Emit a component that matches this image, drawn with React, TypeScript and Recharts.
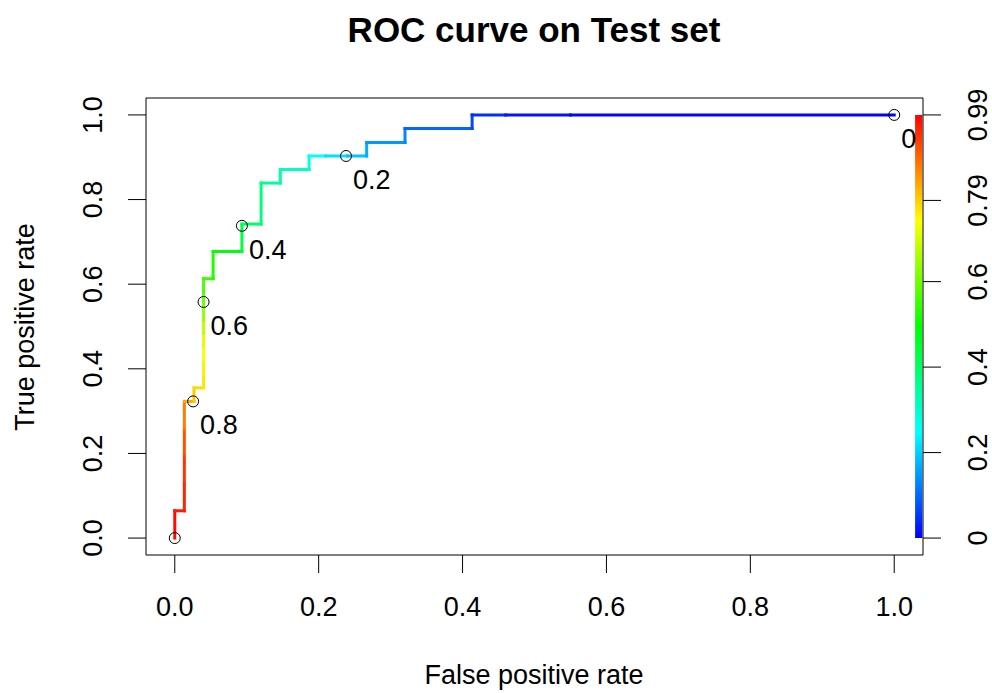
import React from "react";
import {
  ComposedChart,
  Line,
  Scatter,
  XAxis,
  YAxis,
  ReferenceArea,
} from "recharts";

// ROC vertices (steps of the curve) with the cutoff at each one
const fpr = [
  0, 0, 0.0133, 0.0133, 0.0133, 0.0133, 0.0133, 0.0267, 0.0267, 0.04, 0.04, 0.04,
  0.04, 0.04, 0.04, 0.04, 0.04, 0.04, 0.0533, 0.0533, 0.0933, 0.0933, 0.12, 0.12,
  0.1467, 0.1467, 0.1867, 0.1867, 0.21, 0.24, 0.2667, 0.2667, 0.32, 0.32, 0.4133,
  0.4133, 0.46, 0.55, 1,
];
const tpr = [
  0, 0.0645, 0.0645, 0.129, 0.194, 0.258, 0.323, 0.323, 0.355, 0.355, 0.387, 0.419,
  0.452, 0.484, 0.516, 0.548, 0.581, 0.613, 0.613, 0.677, 0.677, 0.742, 0.742, 0.839,
  0.839, 0.871, 0.871, 0.903, 0.903, 0.903, 0.903, 0.935, 0.935, 0.968, 0.968, 1, 1,
  1, 1,
];
const cutoffs = [
  0.99, 0.97, 0.96, 0.95, 0.93, 0.89, 0.85, 0.8, 0.79, 0.77, 0.76, 0.75, 0.73, 0.7,
  0.66, 0.62, 0.58, 0.56, 0.54, 0.51, 0.46, 0.41, 0.39, 0.36, 0.34, 0.32, 0.29, 0.26,
  0.235, 0.2, 0.18, 0.16, 0.14, 0.12, 0.08, 0.06, 0.03, 0.01, 0,
];

// cutoffs printed on the curve
const markFpr = [0, 0.0255, 0.04, 0.0933, 0.238, 1];
const markTpr = [0, 0.323, 0.558, 0.738, 0.903, 1];
const markLabels = ["", "0.8", "0.6", "0.4", "0.2", "0"];

const xTicks = [0, 0.2, 0.4, 0.6, 0.8, 1];
const yTicks = [0, 0.2, 0.4, 0.6, 0.8, 1];
const keyTicks = [0, 0.2, 0.4, 0.6, 0.79, 0.99];
const cutMax = 0.99;

const FONT = "'Liberation Sans', Arial, sans-serif";

const rainbow = (c: number) => {
  const h = Math.max(0, Math.min(240, 240 * (1 - c / cutMax)));
  return `hsl(${h.toFixed(1)}, 100%, 50%)`;
};

const segments = fpr.slice(1).map((_, i) => ({
  color: rainbow((cutoffs[i] + cutoffs[i + 1]) / 2),
  data: [
    { x: fpr[i], y: tpr[i] },
    { x: fpr[i + 1], y: tpr[i + 1] },
  ],
}));

const marks = markFpr.map((x, i) => ({ x, y: markTpr[i], label: markLabels[i] }));

const XTick = ({ x, y, payload }: any) => (
  <text x={x} y={y + 43} textAnchor="middle" fontSize={27} fontFamily={FONT} fill="#000">
    {Number(payload.value).toFixed(1)}
  </text>
);

const LeftTick = ({ x, y, payload }: any) => (
  <text
    x={x - 26}
    y={y}
    textAnchor="middle"
    fontSize={27}
    fontFamily={FONT}
    fill="#000"
    transform={`rotate(-90, ${x - 26}, ${y})`}
  >
    {Number(payload.value).toFixed(1)}
  </text>
);

const RightTick = ({ x, y, payload }: any) => (
  <text
    x={x + 46}
    y={y}
    textAnchor="middle"
    fontSize={27}
    fontFamily={FONT}
    fill="#000"
    transform={`rotate(-90, ${x + 46}, ${y})`}
  >
    {String(payload.value)}
  </text>
);

const Mark = (props: any) => {
  const { cx, cy, payload } = props;
  return (
    <g>
      <circle cx={cx} cy={cy} r={5.5} fill="none" stroke="#000" strokeWidth={1} />
      {payload.label ? (
        <text x={cx + 7} y={cy + 33} fontSize={27} fontFamily={FONT} fill="#000">
          {payload.label}
        </text>
      ) : null}
    </g>
  );
};

export default function App() {
  return (
    <div style={{ position: "absolute", left: 0, top: 0, width: 992, height: 693, background: "#fff" }}>
      <ComposedChart width={992} height={693} margin={{ top: 98, right: 0, bottom: 0, left: 0 }}>
        <defs>
          <linearGradient id="rainbowKey" x1="0" y1="0" x2="0" y2="1">
            <stop offset="0" stopColor="hsl(0,100%,50%)" />
            <stop offset="0.25" stopColor="hsl(60,100%,50%)" />
            <stop offset="0.5" stopColor="hsl(120,100%,50%)" />
            <stop offset="0.75" stopColor="hsl(180,100%,50%)" />
            <stop offset="1" stopColor="hsl(240,100%,50%)" />
          </linearGradient>
        </defs>
        <XAxis
          type="number"
          dataKey="x"
          domain={[-0.04, 1.04]}
          ticks={xTicks}
          allowDataOverflow
          height={138}
          tickSize={18}
          tickMargin={0}
          axisLine={false}
          tickLine={{ stroke: "#000" }}
          tick={<XTick />}
        />
        <YAxis
          yAxisId="left"
          type="number"
          domain={[-0.04, 1.04]}
          ticks={yTicks}
          allowDataOverflow
          width={146}
          tickSize={18}
          tickMargin={0}
          axisLine={false}
          tickLine={{ stroke: "#000" }}
          tick={<LeftTick />}
        />
        <YAxis
          yAxisId="right"
          orientation="right"
          type="number"
          domain={[-0.04 * cutMax, 1.04 * cutMax]}
          ticks={keyTicks}
          allowDataOverflow
          width={69}
          tickSize={18}
          tickMargin={0}
          axisLine={false}
          tickLine={{ stroke: "#000" }}
          tick={<RightTick />}
        />
        <ReferenceArea
          yAxisId="right"
          x1={1.029}
          x2={1.039}
          y1={0}
          y2={cutMax}
          fill="url(#rainbowKey)"
          fillOpacity={1}
          stroke="none"
        />
        {segments.map((s, i) => (
          <Line
            key={i}
            yAxisId="left"
            data={s.data}
            dataKey="y"
            stroke={s.color}
            strokeWidth={3}
            strokeLinecap="square"
            dot={false}
            activeDot={false}
            isAnimationActive={false}
          />
        ))}
        <Scatter
          yAxisId="left"
          data={marks}
          dataKey="y"
          shape={<Mark />}
          isAnimationActive={false}
        />
        <ReferenceArea
          yAxisId="left"
          x1={-0.04}
          x2={1.04}
          y1={-0.04}
          y2={1.04}
          fill="none"
          fillOpacity={0}
          stroke="#000"
          strokeWidth={1}
        />
        <text x={534} y={42} textAnchor="middle" fontSize={35} fontWeight="bold" fontFamily={FONT} fill="#000">
          ROC curve on Test set
        </text>
        <text x={534} y={684} textAnchor="middle" fontSize={27} fontFamily={FONT} fill="#000">
          False positive rate
        </text>
        <text
          x={34}
          y={327}
          textAnchor="middle"
          fontSize={27}
          fontFamily={FONT}
          fill="#000"
          transform="rotate(-90, 34, 327)"
        >
          True positive rate
        </text>
      </ComposedChart>
    </div>
  );
}
